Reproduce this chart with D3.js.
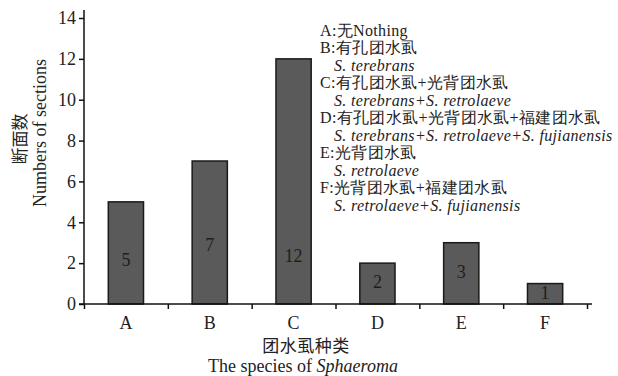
<!DOCTYPE html>
<html><head><meta charset="utf-8">
<script src="https://cdn.jsdelivr.net/npm/d3@7"></script>
<style>body{margin:0;background:#fff}svg{display:block}</style>
</head><body>
<svg id="c" width="618" height="376"></svg>
<script>
const categories = ["A","B","C","D","E","F"];
const values = [5,7,12,2,3,1];
const valueLabelAt = [2.15,2.9,2.35,1.08,1.57,0.54];
const yTicks = [0,2,4,6,8,10,12,14];
const legendLines = [
  {t:"A:无Nothing", it:false},
  {t:"B:有孔团水虱", it:false},
  {t:"S. terebrans", it:true},
  {t:"C:有孔团水虱+光背团水虱", it:false},
  {t:"S. terebrans+S. retrolaeve", it:true},
  {t:"D:有孔团水虱+光背团水虱+福建团水虱", it:false},
  {t:"S. terebrans+S. retrolaeve+S. fujianensis", it:true},
  {t:"E:光背团水虱", it:false},
  {t:"S. retrolaeve", it:true},
  {t:"F:光背团水虱+福建团水虱", it:false},
  {t:"S. retrolaeve+S. fujianensis", it:true}
];

const svg = d3.select("#c");
const serif = "'Liberation Serif','Times New Roman',serif";
const cjk = "'Noto Sans CJK SC',sans-serif";
const x = d3.scaleBand().domain(categories).range([84,587]).paddingInner(0.58).paddingOuter(0.29);
const y = d3.scaleLinear().domain([0,14]).range([304,18]);

// bars
svg.append("g").selectAll("rect").data(values).join("rect")
  .attr("x",(d,i)=>x(categories[i])).attr("width",x.bandwidth())
  .attr("y",d=>y(d)).attr("height",d=>y(0)-y(d))
  .attr("fill","#5a5a5a").attr("stroke","#1a1a1a").attr("stroke-width",1.5);

svg.append("g").selectAll("text").data(values).join("text")
  .attr("x",(d,i)=>x(categories[i])+x.bandwidth()/2)
  .attr("y",(d,i)=>y(valueLabelAt[i]))
  .attr("dy","0.35em").attr("text-anchor","middle")
  .attr("font-family",serif).attr("font-size",18).attr("fill","#1e1e1e")
  .text(d=>d);

// y axis
const ya = svg.append("g").attr("transform","translate(84,0)")
  .call(d3.axisLeft(y).tickValues(yTicks).tickSize(5).tickPadding(3).tickFormat(d3.format("d")));
ya.select(".domain").attr("d","M0,304V10").attr("stroke","#111").attr("stroke-width",1.5);
ya.selectAll(".tick line").attr("stroke","#111").attr("stroke-width",1.5);
ya.selectAll(".tick text").attr("font-family",serif).attr("font-size",18).attr("fill","#222");

// x axis
const xb = d3.scaleLinear().domain([0,6]).range([84,587]);
const xa = svg.append("g").attr("transform","translate(0,304)")
  .call(d3.axisBottom(xb).ticks(6).tickSize(5).tickFormat(""));
xa.select(".domain").attr("d","M79,0H592").attr("stroke","#111").attr("stroke-width",1.5);
xa.selectAll(".tick line").attr("stroke","#111").attr("stroke-width",1.5);
svg.append("g").selectAll("text").data(categories).join("text")
  .attr("x",d=>x(d)+x.bandwidth()/2).attr("y",323).attr("dy","0.35em")
  .attr("text-anchor","middle").attr("font-family",serif).attr("font-size",18).attr("fill","#222")
  .text(d=>d);

// axis titles
svg.append("text").attr("transform","translate(20,139) rotate(-90)")
  .attr("text-anchor","middle").attr("dy","0.35em")
  .attr("font-family",cjk).attr("font-size",17).attr("fill","#222").text("断面数");
svg.append("text").attr("transform","translate(40,133) rotate(-90)")
  .attr("text-anchor","middle").attr("dy","0.35em")
  .attr("font-family",serif).attr("font-size",18).attr("fill","#222").text("Numbers of sections");
svg.append("text").attr("x",306).attr("y",346).attr("dy","0.35em").attr("text-anchor","middle")
  .attr("font-family",cjk).attr("font-size",17).attr("letter-spacing",0.5).attr("fill","#222").text("团水虱种类");
const t2 = svg.append("text").attr("x",303).attr("y",366).attr("dy","0.35em").attr("text-anchor","middle")
  .attr("font-family",serif).attr("font-size",18).attr("fill","#222");
t2.append("tspan").text("The species of ");
t2.append("tspan").attr("font-style","italic").text("Sphaeroma");

// legend
svg.append("g").selectAll("text").data(legendLines).join("text")
  .attr("x",d=>d.it?334:320).attr("y",(d,i)=>30+i*17.5).attr("dy","0.35em")
  .attr("font-family",serif).attr("font-size",16).attr("letter-spacing",0.35).attr("fill","#222")
  .attr("font-style",d=>d.it?"italic":"normal")
  .text(d=>d.t);
</script>
</body></html>
